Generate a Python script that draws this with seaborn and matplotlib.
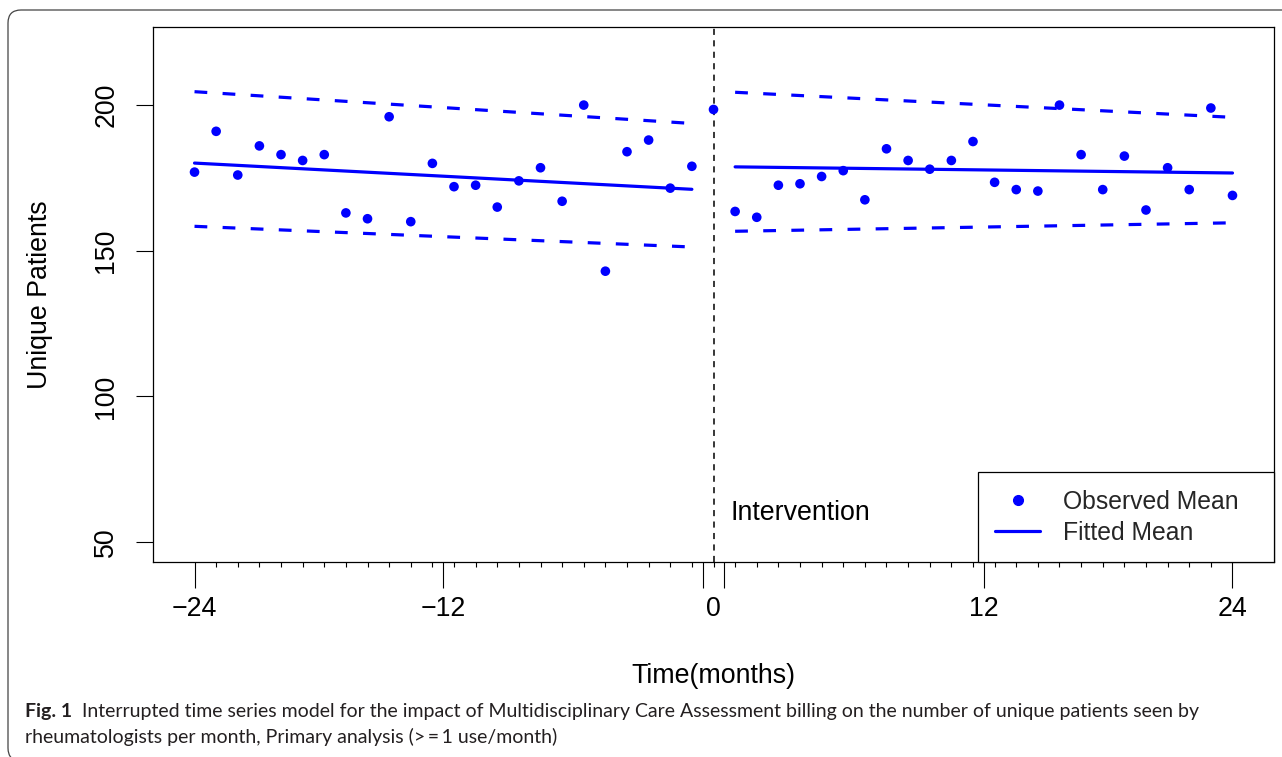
import matplotlib

matplotlib.use("Agg")
import matplotlib.pyplot as plt
import seaborn as sns
from matplotlib.lines import Line2D
from matplotlib.patches import FancyBboxPatch
from matplotlib.transforms import IdentityTransform

# Observed monthly means (months relative to the intervention)
months = list(range(-24, 25))
observed = [
    177, 191, 176, 186, 183, 181, 183, 163, 161, 196, 160, 180,
    172, 172.5, 165, 174, 178.5, 167, 200, 143, 184, 188, 171.5, 179,
    198.5,
    163.5, 161.5, 172.5, 173, 175.5, 177.5, 167.5, 185, 181, 178, 181, 187.5,
    173.5, 171, 170.5, 200, 183, 171, 182.5, 164, 178.5, 171, 199, 169,
]

# Fitted segments (end points) and their bounds
pre_months = [-24, -1]
pre_fit = [180.1, 171.1]
pre_upper = [204.6, 193.7]
pre_lower = [158.4, 151.3]

post_months = [1, 24]
post_fit = [178.8, 176.7]
post_upper = [204.4, 195.8]
post_lower = [156.7, 159.6]

major_ticks = [-24, -12.5, -0.5, 0.5, 12.5, 24]
major_labels = ["\u221224", "\u221212", "", "", "12", "24"]
y_ticks = [50, 100, 150, 200]

caption_bold = "Fig. 1"
caption_line1 = ("Interrupted time series model for the impact of Multidisciplinary Care "
                 "Assessment billing on the number of unique patients seen by")
caption_line2 = "rheumatologists per month, Primary analysis (>\u2009=\u20091 use/month)"

sns.set_theme(style="white")
plt.rcParams["font.family"] = ["Liberation Sans", "DejaVu Sans"]
FS = 19.3
LEG_FS = 17.8
BLUE = "#0000ff"

fig = plt.figure(figsize=(12.82, 7.57), dpi=100)
ax = fig.add_axes([153 / 1282, 195 / 757, 1121 / 1282, 535 / 757])

sns.scatterplot(x=months, y=observed, color=BLUE, s=48, edgecolor="none",
                ax=ax, zorder=3)
for xs, fit, up, lo in [(pre_months, pre_fit, pre_upper, pre_lower),
                        (post_months, post_fit, post_upper, post_lower)]:
    sns.lineplot(x=xs, y=fit, color=BLUE, lw=2.3, ax=ax)
    for band in (up, lo):
        sns.lineplot(x=xs, y=band, color=BLUE, lw=2.3, ax=ax,
                     linestyle=(0, (4, 4.8)))

ax.axvline(0, color="black", lw=1.1, linestyle=(0, (4, 3.5)), zorder=1)
ax.text(0.8, 60, "Intervention", ha="left", va="center", fontsize=FS, color="black")

ax.set_xlim(-25.92, 25.92)
ax.set_ylim(43.2, 226.8)

# x axis: long ticks with labels, short monthly ticks, "0" under the intervention
ax.set_xticks(major_ticks)
ax.set_xticklabels(major_labels)
ax.set_xticks(months, minor=True)
ax.set_xticklabels(["0" if m == 0 else "" for m in months], minor=True)
ax.tick_params(axis="x", which="major", direction="out", length=18.7, width=0.8,
               pad=6.0, labelsize=FS, colors="black", bottom=True)
ax.tick_params(axis="x", which="minor", direction="out", length=3.6, width=0.8,
               pad=21.1, labelsize=FS, colors="black", bottom=True)

ax.set_yticks(y_ticks)
ax.set_yticklabels([str(v) for v in y_ticks], rotation=90, va="center")
ax.tick_params(axis="y", direction="out", length=12.2, width=0.8, pad=12,
               labelsize=FS, colors="black", left=True)

for sp in ax.spines.values():
    sp.set_color("black")
    sp.set_linewidth(0.9)

ax.set_xlabel("Time(months)", fontsize=FS, color="black")
ax.xaxis.set_label_coords(0.5, -(676 - 562) / 535)
ax.xaxis.label.set_va("center")
ax.set_ylabel("Unique Patients", fontsize=FS, color="black")
ax.yaxis.set_label_coords((40 - 153) / 1121, 0.5)
ax.yaxis.label.set_va("center")

handles = [
    Line2D([], [], marker="o", color=BLUE, linestyle="none", markersize=7),
    Line2D([], [], color=BLUE, lw=2.3),
]
leg = ax.legend(handles, ["Observed Mean", "Fitted Mean"], loc="lower left",
                bbox_to_anchor=((978 - 153) / 1121, 0, (1274 - 978) / 1121, 0.16),
                mode="expand", borderaxespad=0, fancybox=False, framealpha=1,
                edgecolor="black", fontsize=LEG_FS, handlelength=1.8,
                handletextpad=0.93, borderpad=0.7, labelspacing=0.28)
leg.get_frame().set_linewidth(0.9)

# journal figure frame and caption
frame = FancyBboxPatch((8, -4), 1300, 751, boxstyle="round,pad=0,rounding_size=13",
                       transform=IdentityTransform(), fill=False,
                       edgecolor="#444444", lw=0.9)
fig.patches.append(frame)

cap_kw = dict(family=["Lato", "DejaVu Sans"], fontsize=14, color="#231f20", va="center")
t1 = fig.text(25 / 1282, 1 - 711 / 757, caption_bold, weight="bold", **cap_kw)
ax.annotate(caption_line1, xy=(1, 0.5), xycoords=t1, xytext=(7, 0),
            textcoords="offset points", annotation_clip=False, **cap_kw)
fig.text(25 / 1282, 1 - 737 / 757, caption_line2, **cap_kw)

fig.savefig("out.png", dpi=100)
